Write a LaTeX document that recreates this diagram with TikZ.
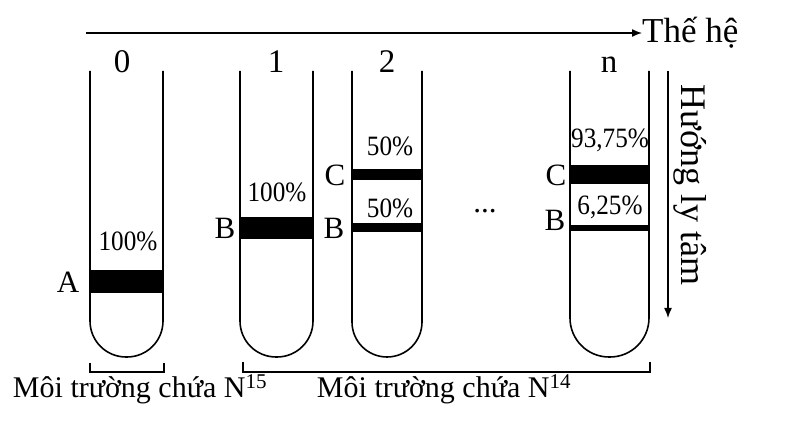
\documentclass[tikz,border=0pt]{standalone}
\usepackage{fontspec}
\setmainfont{Liberation Serif}
\newfontfamily\pctfont[FakeStretch=0.9]{Liberation Serif}
\usetikzlibrary{arrows.meta}

% one test tube: left wall x, right wall x, corner radius
\newcommand{\testtube}[3]{%
  \draw[tube, rounded corners=#3] (#1,71) -- (#1,357) -- (#2,357) -- (#2,71);
}

\begin{document}
\begin{tikzpicture}[x=1pt, y=-1pt,
    tube/.style = {line width=1.6pt},
    band/.style = {fill=black},
    gen/.style = {anchor=base, inner sep=0pt, font=\fontsize{33}{33}\selectfont},
    pct/.style = {inner sep=0pt, font=\pctfont\fontsize{28}{28}\selectfont},
    letter/.style = {inner sep=0pt, font=\fontsize{31}{31}\selectfont},
    axis/.style = {line width=1.4pt, -{Latex[length=10pt,width=8pt]}},
    env/.style = {anchor=base, inner sep=0pt, font=\fontsize{30}{30}\selectfont}]
    \useasboundingbox (0,0) rectangle (788,438);

    % generation axis
    \coordinate (hstart) at (86,33);
    \node[anchor=base west, inner sep=0pt, font=\fontsize{35}{35}\selectfont] (thehe) at (642,43) {Thế hệ};
    \draw[axis] (hstart) -- (hstart -| thehe.west);

    \node[gen] (g0) at (122,73) {0};
    \node[gen] (g1) at (276,73) {1};
    \node[gen] (g2) at (387,73) {2};
    \node[gen] (gn) at (609,73) {n};

    % tubes
    \testtube{90}{163}{36pt}
    \testtube{240}{313}{36pt}
    \testtube{352}{422}{35pt}
    \testtube{570}{649}{39pt}

    % bands
    \fill[band] (90,270) rectangle (163,293);
    \fill[band] (240,217) rectangle (313,239);
    \fill[band] (352,169) rectangle (422,180);
    \fill[band] (352,223) rectangle (422,232);
    \fill[band] (570,165) rectangle (649,184);
    \fill[band] (570,225) rectangle (649,231);

    \node[pct] (p0) at (128,241) {100\%};
    \node[pct] (p1) at (277,192) {100\%};
    \node[pct] (p2c) at (390,146) {50\%};
    \node[pct] (p2b) at (390,208) {50\%};
    \node[pct] (pnc) at (610,140) {93,75\%};
    \node[pct] (pnb) at (610,207) {6,25\%};

    \node[letter] (lA) at (68,282) {A};
    \node[letter] (lB1) at (225,228) {B};
    \node[letter] (lC2) at (335,175) {C};
    \node[letter] (lB2) at (334,228) {B};
    \node[letter] (lCn) at (556,175) {C};
    \node[letter] (lBn) at (555,220) {B};
    \node[letter, anchor=base] (dots) at (485,213) {...};

    % centrifuge direction
    \coordinate (vstart) at (668,71);
    \coordinate (vend) at (668,318);
    \draw[axis] (vstart) -- (vend);
    \node[rotate=-90, inner sep=0pt, font=\fontsize{36}{36}\selectfont] (huong) at (690,185) {Hướng ly tâm};

    % media
    \draw[line width=1.4pt] (90,363) -- (90,372) -- (164,372) -- (164,363);
    \draw[line width=1.4pt] (243,362) -- (243,372) -- (650,372) -- (650,362);
    \node[env] (n15) at (140,398) {Môi trường chứa N\textsuperscript{15}};
    \node[env] (n14) at (444,398) {Môi trường chứa N\textsuperscript{14}};
\end{tikzpicture}
\end{document}
